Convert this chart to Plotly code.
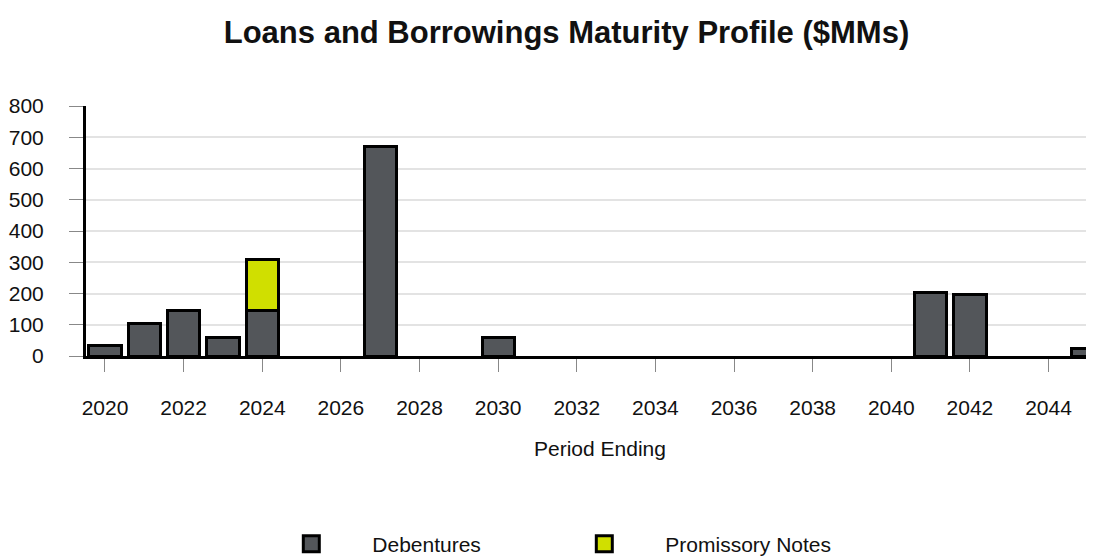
import plotly.graph_objects as go

years = [2020, 2021, 2022, 2023, 2024, 2027, 2030, 2041, 2042, 2045]
debentures = [35, 105, 147, 60, 147, 672, 60, 203, 196, 25]
promissory_years = [2024]
promissory = [163]

FONT = "Liberation Sans, Arial, sans-serif"
DEB_COLOR = "#53565a"
PN_COLOR = "#d0df00"

fig = go.Figure()
fig.add_trace(go.Bar(x=years, y=debentures, name="Debentures",
                     marker=dict(color=DEB_COLOR, line=dict(color="black", width=3)),
                     showlegend=False))
fig.add_trace(go.Bar(x=promissory_years, y=promissory, name="Promissory Notes",
                     marker=dict(color=PN_COLOR, line=dict(color="black", width=3)),
                     showlegend=False))
# legend entries
fig.add_trace(go.Scatter(x=[None], y=[None], mode="markers", name="Debentures",
                         marker=dict(symbol="square", size=16, color=DEB_COLOR,
                                     line=dict(color="black", width=3))))
fig.add_trace(go.Scatter(x=[None], y=[None], mode="markers", name="Promissory Notes",
                         marker=dict(symbol="square", size=16, color=PN_COLOR,
                                     line=dict(color="black", width=3))))

fig.update_layout(
    width=1094, height=557,
    barmode="stack", bargap=0.18,
    plot_bgcolor="white", paper_bgcolor="white",
    margin=dict(l=78, r=8, t=98, b=209, autoexpand=False),
    font=dict(family=FONT, size=21, color="#111111"),
    title=dict(text="<b>Loans and Borrowings Maturity Profile ($MMs)</b>",
               x=0.5105, xanchor="center", y=1 - 24 / 557, yanchor="middle",
               font=dict(family=FONT, size=31, color="#111111")),
    showlegend=True,
    legend=dict(orientation="h", traceorder="normal", x=0.163, xanchor="left",
                y=-0.752, yanchor="middle",
                itemwidth=112, entrywidth=166, font=dict(family=FONT, size=21)),
    annotations=[dict(text="Period Ending", xref="paper", yref="paper",
                      x=0.5104, y=-0.37, xanchor="center", yanchor="middle",
                      showarrow=False, font=dict(family=FONT, size=21, color="#111111"))],
)
fig.update_xaxes(range=[2019.517, 2045.157], dtick=2, tick0=2020, automargin=False,
                 showline=True, linecolor="black", linewidth=3,
                 ticks="outside", ticklen=13, tickcolor="#888888", tickwidth=1,
                 ticklabelstandoff=18, showgrid=False, zeroline=False)
fig.update_yaxes(range=[0, 800], dtick=100, automargin=False,
                 showline=True, linecolor="black", linewidth=3,
                 ticks="outside", ticklen=14, tickcolor="#888888", tickwidth=1,
                 ticklabelstandoff=21,
                 showgrid=True, gridcolor="#e3e3e3", gridwidth=1.5, zeroline=False)

fig.write_html("out.html")
